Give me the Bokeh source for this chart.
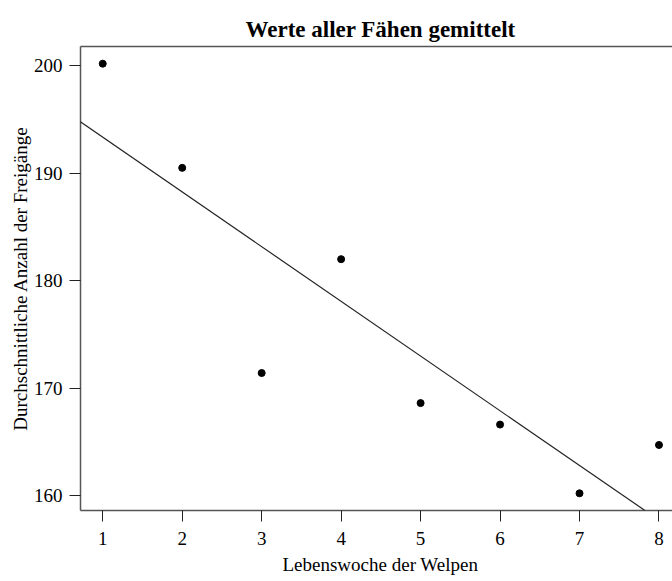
import numpy as np
from bokeh.plotting import figure
from bokeh.models import Range1d, LinearAxis, FixedTicker, Title, Slope
from bokeh.embed import file_html
from bokeh.resources import INLINE

# Mean number of outings per week of life (all vixens averaged)
weeks = [1, 2, 3, 4, 5, 6, 7, 8]
mean_outings = [200.2, 190.5, 171.4, 182.0, 168.6, 166.6, 160.2, 164.7]
x_ticks = [1, 2, 3, 4, 5, 6, 7, 8]
y_ticks = [160, 170, 180, 190, 200]

title_text = "Werte aller Fähen gemittelt"
x_label = "Lebenswoche der Welpen"
y_label = "Durchschnittliche Anzahl der Freigänge"

# least-squares trend line
slope, intercept = np.polyfit(weeks, mean_outings, 1)

# R-style 4 % padding around the data
xpad = 0.04 * (max(weeks) - min(weeks))
ypad = 0.04 * (max(mean_outings) - min(mean_outings))

SERIF = "Liberation Serif"
FRAME = "#555555"

p = figure(
    width=672, height=581,
    x_range=Range1d(min(weeks) - xpad, 8.17),
    y_range=Range1d(min(mean_outings) - ypad, max(mean_outings) + ypad),
    output_backend="svg", toolbar_location=None,
    min_border_left=80, min_border_right=0, min_border_top=46, min_border_bottom=71,
)
p.outline_line_color = None
p.grid.visible = False
p.background_fill_color = "white"
p.border_fill_color = "white"

# main title
p.title.text = title_text
p.title.align = "left"
p.title.offset = 165
p.title.text_font = SERIF
p.title.text_font_size = "23px"
p.title.text_font_style = "bold"
p.title.text_color = "black"


def style_axis(ax, standoff):
    ax.axis_line_color = FRAME
    ax.axis_line_width = 1.5
    ax.major_tick_out = 11
    ax.major_tick_in = 0
    ax.minor_tick_out = 0
    ax.minor_tick_in = 0
    ax.major_tick_line_color = "#222222"
    ax.major_tick_line_width = 1
    ax.major_label_text_font = SERIF
    ax.major_label_text_font_size = "19px"
    ax.major_label_text_color = "black"
    ax.major_label_standoff = standoff


xa = p.xaxis[0]
xa.ticker = FixedTicker(ticks=x_ticks)
style_axis(xa, 10)

ya = p.yaxis[0]
ya.ticker = FixedTicker(ticks=y_ticks)
style_axis(ya, 7)
ya.axis_label = y_label
ya.axis_label_text_font = SERIF
ya.axis_label_text_font_size = "19px"
ya.axis_label_text_font_style = "normal"
ya.axis_label_text_color = "black"
ya.axis_label_standoff = 0

# top edge of the plotting box
top = LinearAxis(ticker=FixedTicker(ticks=[]), major_label_text_font_size="0px",
                 major_tick_out=0, minor_tick_out=0, major_label_standoff=0,
                 axis_line_color=FRAME, axis_line_width=1.5)
p.add_layout(top, "above")

# x axis title, centred on the full plotting box
p.add_layout(Title(text=x_label, align="left", offset=202, text_font=SERIF,
                   text_font_size="19px", text_font_style="normal",
                   text_color="black", standoff=8), "below")

p.add_layout(Slope(gradient=slope, y_intercept=intercept,
                   line_color="#222222", line_width=1.2))
p.scatter(weeks, mean_outings, size=7, color="black")

open("out.html", "w").write(file_html(p, INLINE))
